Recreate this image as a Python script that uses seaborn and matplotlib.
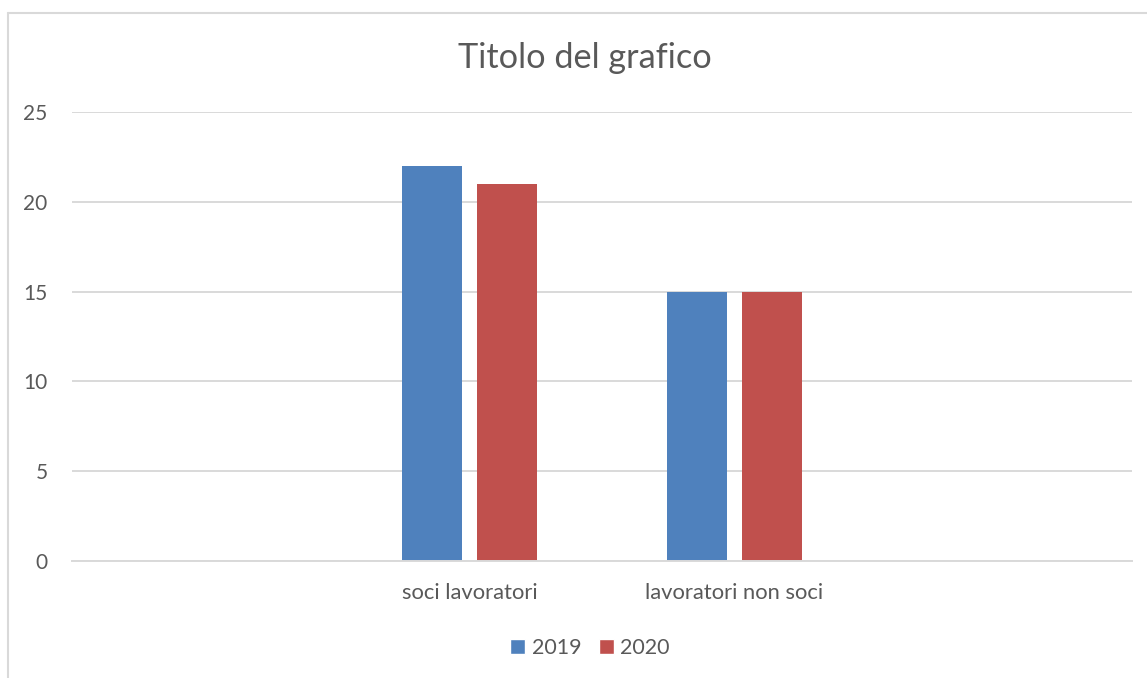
import pandas as pd
import matplotlib.pyplot as plt
import seaborn as sns
from matplotlib.lines import Line2D
from matplotlib.patches import Patch

# data
categories = ["soci lavoratori", "lavoratori non soci"]
years = ["2019", "2020"]
values_2019 = [22, 15]
values_2020 = [21, 15]
# empty slots on both sides, like the original Excel chart
order = [""] + categories + [" "]
colors = {"2019": "#4F81BD", "2020": "#C0504D"}

df = pd.DataFrame({
    "categoria": categories * 2,
    "anno": ["2019"] * 2 + ["2020"] * 2,
    "valore": values_2019 + values_2020,
})

sns.set_style("white")
plt.rcParams['font.family'] = ['Lato', 'DejaVu Sans']

fig = plt.figure(figsize=(11.47, 6.78), dpi=100)
ax = fig.add_axes([72 / 1147, 1 - 561 / 678, 1060 / 1147, 449 / 678])

sns.barplot(data=df, x="categoria", y="valore", hue="anno", order=order,
            hue_order=years, palette=colors, width=0.566, gap=0.213,
            saturation=1, ax=ax, legend=False, edgecolor="none")

ax.set_ylim(0, 25)
ax.set_yticks([0, 5, 10, 15, 20, 25])
ax.set_xlim(-0.5, 3.5)
ax.yaxis.grid(True, color="#D9D9D9", linewidth=1.4)
ax.set_axisbelow(True)
for s in ["top", "right", "left"]:
    ax.spines[s].set_visible(False)
ax.spines["bottom"].set_color("#D9D9D9")
ax.spines["bottom"].set_linewidth(1.4)
ax.tick_params(axis="y", length=0, labelsize=15, labelcolor="#595959", pad=17.5)
ax.tick_params(axis="x", length=0, labelsize=15.8, labelcolor="#595959", pad=16)
ax.set_xlabel("")
ax.set_ylabel("")

fig.text(585 / 1147, 1 - 58 / 678, "Titolo del grafico", ha="center", va="center",
         fontsize=24.7, color="#595959")

handles = [Patch(facecolor=colors[y], label=y) for y in years]
fig.legend(handles=handles, loc="center", bbox_to_anchor=(590 / 1147, 1 - 648 / 678),
           ncol=2, frameon=False, fontsize=15.4, labelcolor="#595959",
           handlelength=0.7, handleheight=0.7, handletextpad=0.3, columnspacing=0.8)

# chart border (only left and top edges visible)
fig.add_artist(Line2D([8 / 1147, 8 / 1147], [0, 1 - 13 / 678], color="#D9D9D9", linewidth=1.5))
fig.add_artist(Line2D([8 / 1147, 1], [1 - 13 / 678, 1 - 13 / 678], color="#D9D9D9", linewidth=1.5))

plt.savefig("out.png", dpi=100)
